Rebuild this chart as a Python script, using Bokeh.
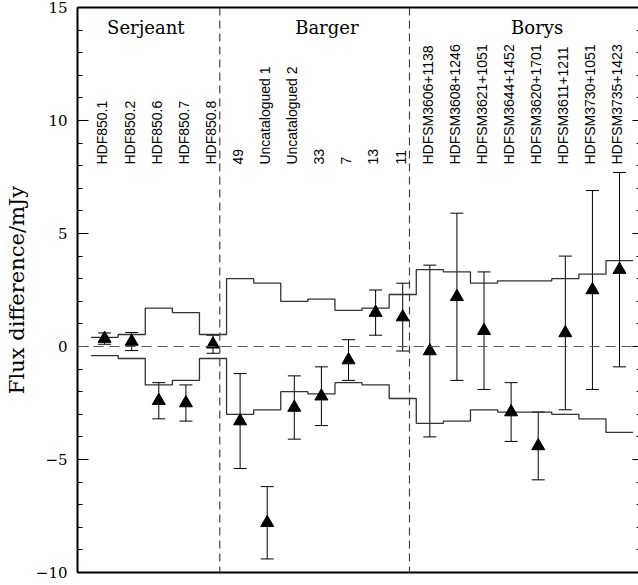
import numpy as np
from bokeh.plotting import figure
from bokeh.models import (Range1d, LinearAxis, SingleIntervalTicker, FixedTicker, Span,
                          Whisker, ColumnDataSource, TeeHead, CustomJSTickFormatter)
from bokeh.core.properties import value
from bokeh.embed import file_html
from bokeh.resources import INLINE

group_names = ["Serjeant", "Barger", "Borys"]
group_label_x = [2.52, 9.2, 16.96]
divider_x = [5.25, 12.25]

serjeant_ids = ["HDF850.1", "HDF850.2", "HDF850.6", "HDF850.7", "HDF850.8"]
barger_ids = ["49", "Uncatalogued 1", "Uncatalogued 2", "33", "7", "13", "11"]
borys_ids = ["HDFSM3606+1138", "HDFSM3608+1246", "HDFSM3621+1051", "HDFSM3644+1452",
             "HDFSM3620+1701", "HDFSM3611+1211", "HDFSM3730+1051", "HDFSM3735+1423"]
source_ids = serjeant_ids + barger_ids + borys_ids

flux_diff = [0.35, 0.22, -2.4, -2.5, 0.1,
             -3.3, -7.8, -2.7, -2.2, -0.6, 1.5, 1.3,
             -0.2, 2.2, 0.7, -2.9, -4.4, 0.6, 2.5, 3.4]
flux_err = [0.25, 0.4, 0.8, 0.8, 0.4,
            2.1, 1.6, 1.4, 1.3, 0.9, 1.0, 1.5,
            3.8, 3.7, 2.6, 1.3, 1.5, 3.4, 4.4, 4.3]
envelope = [0.4, 0.53, 1.7, 1.5, 0.53,
            3.0, 2.8, 2.0, 2.1, 1.6, 1.7, 2.3,
            3.4, 3.3, 2.8, 2.9, 2.9, 3.0, 3.2, 3.8]

y_ticks_interval = 5

idx = np.arange(1, len(source_ids) + 1)
fd = np.array(flux_diff)
fe = np.array(flux_err)
src = ColumnDataSource(dict(x=idx, y=fd, upper=fd + fe, lower=fd - fe))

p = figure(width=638, height=585, output_backend="svg", toolbar_location=None,
           x_range=Range1d(0, 20.7), y_range=Range1d(-10, 15),
           min_border_left=77, min_border_right=0, min_border_top=7, min_border_bottom=13,
           x_axis_location=None, y_axis_location=None)
p.outline_line_color = None
p.grid.visible = False
p.background_fill_color = "white"

minus_fmt = CustomJSTickFormatter(code="return tick < 0 ? '\u2212' + Math.abs(tick) : tick.toString();")
yticker = SingleIntervalTicker(interval=y_ticks_interval, num_minor_ticks=5)

left = LinearAxis(ticker=yticker, formatter=minus_fmt, axis_label="Flux difference/mJy",
                  axis_label_text_font="DejaVu Serif", axis_label_text_font_style="normal",
                  axis_label_text_font_size="21px", axis_label_standoff=4,
                  axis_label_text_color="black",
                  major_label_text_font="DejaVu Serif", major_label_text_font_size="15px",
                  major_label_text_color="black",
                  major_label_standoff=10, axis_line_width=2, axis_line_color="black",
                  major_tick_in=11, major_tick_out=0, minor_tick_in=5, minor_tick_out=0,
                  major_tick_line_width=1.2, minor_tick_line_width=1,
                  major_tick_line_color="black", minor_tick_line_color="black")
p.add_layout(left, "left")

right = LinearAxis(ticker=SingleIntervalTicker(interval=y_ticks_interval, num_minor_ticks=5),
                   formatter=CustomJSTickFormatter(code="return '';"),
                   major_label_standoff=0, major_label_text_font_size="1px",
                   axis_line_color=None, major_tick_in=6, major_tick_out=0,
                   minor_tick_in=2, minor_tick_out=0,
                   major_tick_line_color="black", minor_tick_line_color="black")
p.add_layout(right, "right")

for loc in ("above", "below"):
    ax = LinearAxis(ticker=FixedTicker(ticks=[]), axis_line_width=2, axis_line_color="black",
                    major_tick_line_color=None, minor_tick_line_color=None,
                    major_label_standoff=0, major_tick_out=0, minor_tick_out=0,
                    major_label_text_font_size="1px")
    p.add_layout(ax, loc)

p.add_layout(Span(location=0, dimension="width", line_color="#555555",
                  line_width=1.2, line_dash="10 6"))
for dx in divider_x:
    p.add_layout(Span(location=dx, dimension="height", line_color="#444444",
                      line_width=1.2, line_dash="8 5"))

step_x = np.repeat(idx, 2) + np.tile([-0.5, 0.5], len(idx))
step_y = np.repeat(np.array(envelope), 2)
p.line(step_x, step_y, line_color="#333333", line_width=1.3)
p.line(step_x, -step_y, line_color="#333333", line_width=1.3)

p.add_layout(Whisker(source=src, base="x", upper="upper", lower="lower", dimension="height",
                     line_color="black", line_width=1,
                     upper_head=TeeHead(size=13, line_width=1, line_color="black"),
                     lower_head=TeeHead(size=13, line_width=1, line_color="black")))
p.scatter("x", "y", source=src, marker="triangle", size=13, color="black")

lab_src = ColumnDataSource(dict(x=idx - 0.08, y=[8.05] * len(idx), text=source_ids))
p.text("x", "y", text="text", source=lab_src, angle=np.pi / 2, text_align="left",
       text_baseline="middle", text_font=value("Liberation Sans"), text_font_size="14px",
       text_color="black")

grp_src = ColumnDataSource(dict(x=group_label_x, y=[14.1] * 3, text=group_names))
p.text("x", "y", text="text", source=grp_src, text_align="center", text_baseline="alphabetic",
       text_font=value("DejaVu Serif"), text_font_size="18px", text_color="black")

open("out.html", "w").write(file_html(p, INLINE))
